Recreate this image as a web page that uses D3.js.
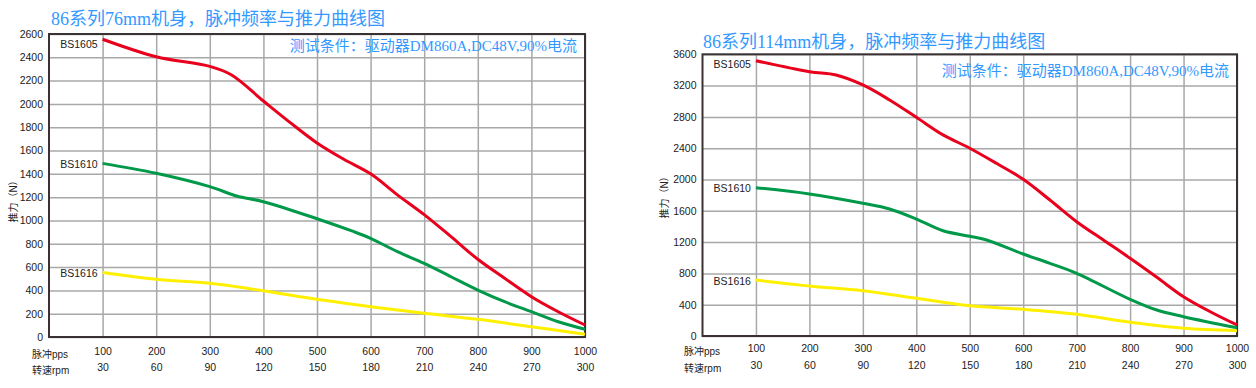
<!DOCTYPE html>
<html>
<head>
<meta charset="utf-8">
<script src="https://cdn.jsdelivr.net/npm/d3@7"></script>
<style>
  body { margin: 0; background: #fff; overflow: hidden; }
  svg { display: block; }
</style>
</head>
<body>
<script>
// tick labels
var ppsTicks = [100, 200, 300, 400, 500, 600, 700, 800, 900, 1000];
var rpmTicks = [30, 60, 90, 120, 150, 180, 210, 240, 270, 300];
var seriesNames = ["BS1605", "BS1610", "BS1616"];

// 76mm body: [pps, force N]
var s76_1605 = [[100,2555],[200,2405],[300,2322],[340,2250],[400,2025],[450,1840],[500,1665],[550,1525],[600,1400],[650,1220],[700,1050],[750,861],[800,667],[850,504],[900,346],[950,217],[1000,103]];
var s76_1610 = [[100,1490],[200,1405],[300,1290],[350,1210],[400,1161],[500,1015],[565,910],[600,847],[650,732],[700,632],[750,517],[800,403],[850,303],[900,217],[950,131],[1000,66]];
var s76_1616 = [[100,553],[200,495],[300,461],[400,397],[500,323],[600,260],[700,203],[800,152],[900,88],[1000,23]];

// 114mm body
var s114_1605 = [[100,3518],[200,3378],[250,3335],[300,3208],[350,3016],[400,2795],[450,2570],[500,2400],[550,2207],[600,2003],[650,1738],[700,1461],[750,1227],[800,993],[850,750],[900,502],[950,310],[1000,141]];
var s114_1610 = [[100,1895],[200,1815],[300,1696],[350,1623],[400,1495],[450,1345],[500,1275],[530,1230],[600,1048],[650,929],[700,801],[800,469],[850,332],[900,247],[1000,106]];
var s114_1616 = [[100,716],[200,639],[300,579],[400,482],[500,387],[600,341],[700,277],[800,175],[900,98],[1000,68]];

var colors = ["#e8001c", "#00994a", "#fff000"];
var blue = "#3399ff";
var cnFont = "'Liberation Serif','Noto Sans CJK SC',serif";
var sansFont = "'Liberation Sans','Noto Sans CJK SC',Arial,sans-serif";

var svg = d3.select("body").append("svg")
    .attr("width", 1256)
    .attr("height", 388);

drawChart({
    left: 49, right: 585, top: 34, bottom: 337,
    yMax: 2600, yStep: 200,
    title: "86系列76mm机身，脉冲频率与推力曲线图", titleX: 51, titleY: 25,
    subX: 577, subY: 51,
    yLabelX: 13, yLabelY: 199,
    xLabelX: 32, row1: 358, row2: 374,
    series: [s76_1605, s76_1610, s76_1616]
});

drawChart({
    left: 702.5, right: 1237, top: 54.3, bottom: 336,
    yMax: 3600, yStep: 400,
    title: "86系列114mm机身，脉冲频率与推力曲线图", titleX: 703, titleY: 48,
    subX: 1229, subY: 76,
    yLabelX: 664, yLabelY: 195,
    xLabelX: 684, row1: 355, row2: 372,
    series: [s114_1605, s114_1610, s114_1616]
});

function drawChart(c) {
    var g = svg.append("g");

    var x = d3.scaleLinear().domain([0, 1000]).range([c.left, c.right]);
    var y = d3.scaleLinear().domain([0, c.yMax]).range([c.bottom, c.top]);
    var yTicks = d3.range(0, c.yMax + 1, c.yStep);

    //grid
    g.append("g")
        .attr("transform", "translate(" + c.left + ",0)")
        .call(d3.axisLeft(y).tickValues(yTicks).tickSize(-(c.right - c.left)).tickFormat(""))
        .call(function(a) { a.select(".domain").remove(); })
        .selectAll("line").attr("stroke", "#a8a8a8").attr("stroke-width", 1.5);

    g.append("g")
        .attr("transform", "translate(0," + c.bottom + ")")
        .call(d3.axisBottom(x).tickValues(ppsTicks).tickSize(-(c.bottom - c.top)).tickFormat(""))
        .call(function(a) { a.select(".domain").remove(); })
        .selectAll("line").attr("stroke", "#a8a8a8").attr("stroke-width", 1.5);

    //frame
    g.append("rect")
        .attr("x", c.left).attr("y", c.top)
        .attr("width", c.right - c.left).attr("height", c.bottom - c.top)
        .attr("fill", "none")
        .attr("stroke", "#3a3232")
        .attr("stroke-width", 2);

    //y tick labels
    var ya = g.append("g")
        .attr("transform", "translate(" + c.left + ",0)")
        .call(d3.axisLeft(y).tickValues(yTicks).tickSize(0).tickPadding(6).tickFormat(d3.format("d")));
    ya.select(".domain").remove();
    ya.selectAll("text").attr("font-family", sansFont).attr("font-size", 10.5).attr("fill", "#222");

    //x tick labels, two rows
    var xa1 = g.append("g")
        .attr("transform", "translate(0," + (c.row1 - 10) + ")")
        .call(d3.axisBottom(x).tickValues(ppsTicks).tickSize(0).tickPadding(0).tickFormat(d3.format("d")));
    var xa2 = g.append("g")
        .attr("transform", "translate(0," + (c.row2 - 10) + ")")
        .call(d3.axisBottom(x).tickValues(ppsTicks).tickSize(0).tickPadding(0)
            .tickFormat(function(d, i) { return rpmTicks[i]; }));
    [xa1, xa2].forEach(function(a) {
        a.select(".domain").remove();
        a.selectAll("text").attr("font-family", sansFont).attr("font-size", 10.5).attr("fill", "#222");
    });

    g.append("text").attr("x", c.xLabelX).attr("y", c.row1)
        .attr("font-family", sansFont).attr("font-size", 10).attr("fill", "#222")
        .text("脉冲pps");
    g.append("text").attr("x", c.xLabelX).attr("y", c.row2)
        .attr("font-family", sansFont).attr("font-size", 10).attr("fill", "#222")
        .text("转速rpm");

    g.append("text")
        .attr("transform", "translate(" + c.yLabelX + "," + c.yLabelY + ") rotate(-90)")
        .attr("text-anchor", "middle").attr("dy", "0.35em")
        .attr("font-family", sansFont).attr("font-size", 10).attr("fill", "#222")
        .text("推力（N）");

    //titles
    g.append("text").attr("x", c.titleX).attr("y", c.titleY)
        .attr("font-family", cnFont).attr("font-size", 18).attr("fill", blue)
        .text(c.title);
    g.append("text").attr("x", c.subX).attr("y", c.subY)
        .attr("text-anchor", "end")
        .attr("font-family", cnFont).attr("font-size", 15).attr("fill", blue)
        .text("测试条件：驱动器DM860A,DC48V,90%电流");

    //curves
    var line = d3.line()
        .x(function(d) { return x(d[0]); })
        .y(function(d) { return y(d[1]); })
        .curve(d3.curveCatmullRom.alpha(0.5));

    c.series.forEach(function(s, i) {
        g.append("path")
            .attr("d", line(s))
            .attr("fill", "none")
            .attr("stroke", colors[i])
            .attr("stroke-width", 3)
            .attr("stroke-linejoin", "round");

        g.append("text")
            .attr("x", x(s[0][0]) - 5)
            .attr("y", Math.max(y(s[0][1]) + 1, c.top + 10))
            .attr("dy", "0.35em")
            .attr("text-anchor", "end")
            .attr("font-family", sansFont).attr("font-size", 10.5).attr("fill", "#222")
            .text(seriesNames[i]);
    });
}
</script>
</body>
</html>
